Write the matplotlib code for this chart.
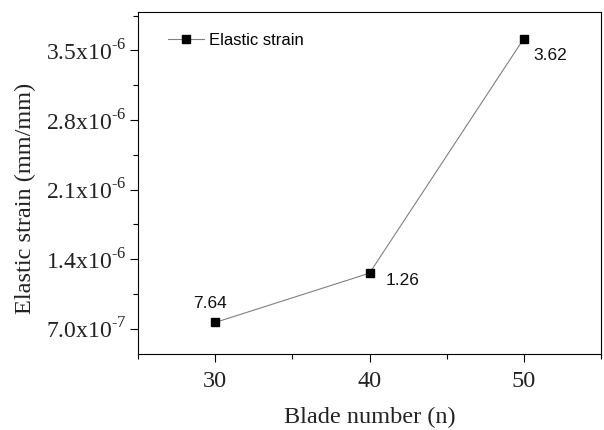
import matplotlib
matplotlib.use("Agg")
import matplotlib.pyplot as plt
from matplotlib.ticker import FixedLocator, FuncFormatter, MultipleLocator

plt.rcParams["mathtext.fontset"] = "custom"
plt.rcParams["mathtext.rm"] = "Liberation Serif"

# data
blade_number = [30, 40, 50]
elastic_strain = [7.64e-7, 1.26e-6, 3.62e-6]
point_labels = ["7.64", "1.26", "3.62"]
y_ticks = [7.0e-7, 1.4e-6, 2.1e-6, 2.8e-6, 3.5e-6]
y_tick_labels = [r"7.0x10$^{\text{-}7}$", r"1.4x10$^{\text{-}6}$", r"2.1x10$^{\text{-}6}$",
                 r"2.8x10$^{\text{-}6}$", r"3.5x10$^{\text{-}6}$"]

fig = plt.figure(figsize=(6.04, 4.3), dpi=100)
ax = fig.add_axes([138 / 604, 1 - 354 / 430, (601 - 138) / 604, (354 - 12) / 430])

ax.plot(blade_number, elastic_strain, color="#808080", lw=0.8,
        marker="s", ms=5.5, mfc="black", mec="black", label="Elastic strain")

# offsets in points
offsets = [(-15.6, 13.4), (11.5, -5.3), (7.2, -12.2)]
for x, y, t, (dx, dy) in zip(blade_number, elastic_strain, point_labels, offsets):
    ax.annotate(t, (x, y), xytext=(dx, dy), textcoords="offset points",
                ha="left", va="center", fontsize=12.5, family="Liberation Sans",
                color="#111111")

ax.set_xlim(25, 55)
ax.set_ylim(4.47e-7, 3.887e-6)
ax.xaxis.set_major_locator(FixedLocator([30, 40, 50]))
ax.xaxis.set_minor_locator(MultipleLocator(5))
ax.yaxis.set_major_locator(FixedLocator(y_ticks))
ax.yaxis.set_minor_locator(FixedLocator([3.5e-7 + 7e-7 * i for i in range(6)]))
ax.yaxis.set_major_formatter(FuncFormatter(
    lambda v, p: y_tick_labels[min(range(len(y_ticks)), key=lambda i: abs(y_ticks[i] - v))]))

ax.tick_params(which="both", direction="out", top=False, right=False)
ax.tick_params(which="major", length=6, width=0.8)
ax.tick_params(which="minor", length=3.5, width=0.8)
ax.tick_params(axis="x", labelsize=17.5, pad=6)
ax.tick_params(axis="y", labelsize=17, pad=2)
for lab in ax.get_xticklabels() + ax.get_yticklabels():
    lab.set_family("Liberation Serif")
    lab.set_color("#222222")

ax.set_xlabel("Blade number (n)", fontsize=17.5, family="Liberation Serif",
              labelpad=11, color="#222222")
ax.set_ylabel("Elastic strain (mm/mm)", fontsize=17.5, family="Liberation Serif",
              color="#222222")
ax.yaxis.set_label_coords(-0.22, 0.455)

leg = ax.legend(loc="center left", bbox_to_anchor=(0.05, 0.916), frameon=False,
                prop={"family": "Liberation Sans", "size": 12},
                handlelength=2.2, handletextpad=0.3, borderaxespad=0)

fig.savefig("out.png", dpi=100)
